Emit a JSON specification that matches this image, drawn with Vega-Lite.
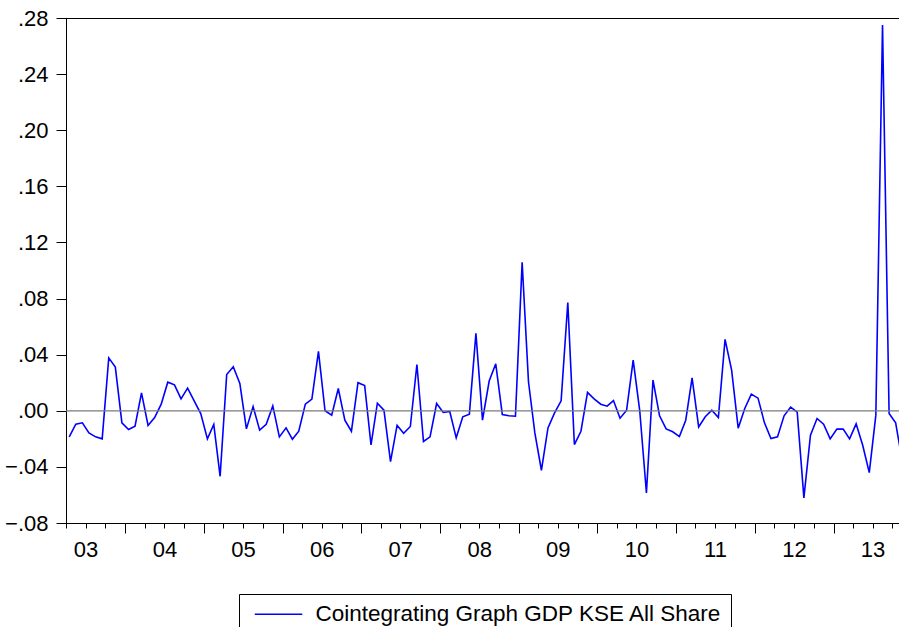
{
  "$schema": "https://vega.github.io/schema/vega-lite/v6.json",
  "width": 833,
  "height": 505,
  "autosize": {"type": "none"},
  "padding": {"left": 66, "top": 18, "right": 0, "bottom": 104},
  "background": "white",
  "config": {
    "view": {"stroke": null},
    "font": "Liberation Sans",
    "axis": {
      "title": null,
      "grid": false,
      "domain": true,
      "tickColor": "black",
      "tickWidth": 1,
      "domainColor": "black",
      "domainWidth": 1,
      "labelColor": "black",
      "labelFont": "Liberation Sans",
      "labelFontSize": 22
    }
  },
  "data": {
    "values": [
      {"d": "2003/04/01", "v": -0.0186}, {"d": "2003/05/01", "v": -0.0096}, {"d": "2003/06/01", "v": -0.0086},
      {"d": "2003/07/01", "v": -0.0158}, {"d": "2003/08/01", "v": -0.0186}, {"d": "2003/09/01", "v": -0.0200},
      {"d": "2003/10/01", "v": 0.0377}, {"d": "2003/11/01", "v": 0.0311}, {"d": "2003/12/01", "v": -0.0086},
      {"d": "2004/01/01", "v": -0.0134}, {"d": "2004/02/01", "v": -0.0110}, {"d": "2004/03/01", "v": 0.0128},
      {"d": "2004/04/01", "v": -0.0105}, {"d": "2004/05/01", "v": -0.0048}, {"d": "2004/06/01", "v": 0.0047},
      {"d": "2004/07/01", "v": 0.0204}, {"d": "2004/08/01", "v": 0.0185}, {"d": "2004/09/01", "v": 0.0085},
      {"d": "2004/10/01", "v": 0.0161}, {"d": "2004/11/01", "v": 0.0071}, {"d": "2004/12/01", "v": -0.0020},
      {"d": "2005/01/01", "v": -0.0200}, {"d": "2005/02/01", "v": -0.0098}, {"d": "2005/03/01", "v": -0.0467},
      {"d": "2005/04/01", "v": 0.0259}, {"d": "2005/05/01", "v": 0.0314}, {"d": "2005/06/01", "v": 0.0195},
      {"d": "2005/07/01", "v": -0.0129}, {"d": "2005/08/01", "v": 0.0030}, {"d": "2005/09/01", "v": -0.0138},
      {"d": "2005/10/01", "v": -0.0096}, {"d": "2005/11/01", "v": 0.0035}, {"d": "2005/12/01", "v": -0.0186},
      {"d": "2006/01/01", "v": -0.0122}, {"d": "2006/02/01", "v": -0.0203}, {"d": "2006/03/01", "v": -0.0146},
      {"d": "2006/04/01", "v": 0.0047}, {"d": "2006/05/01", "v": 0.0083}, {"d": "2006/06/01", "v": 0.0423},
      {"d": "2006/07/01", "v": 0.0000}, {"d": "2006/08/01", "v": -0.0031}, {"d": "2006/09/01", "v": 0.0159},
      {"d": "2006/10/01", "v": -0.0067}, {"d": "2006/11/01", "v": -0.0146}, {"d": "2006/12/01", "v": 0.0200},
      {"d": "2007/01/01", "v": 0.0180}, {"d": "2007/02/01", "v": -0.0243}, {"d": "2007/03/01", "v": 0.0054},
      {"d": "2007/04/01", "v": 0.0004}, {"d": "2007/05/01", "v": -0.0362}, {"d": "2007/06/01", "v": -0.0103},
      {"d": "2007/07/01", "v": -0.0160}, {"d": "2007/08/01", "v": -0.0112}, {"d": "2007/09/01", "v": 0.0330},
      {"d": "2007/10/01", "v": -0.0219}, {"d": "2007/11/01", "v": -0.0186}, {"d": "2007/12/01", "v": 0.0052},
      {"d": "2008/01/01", "v": -0.0012}, {"d": "2008/02/01", "v": -0.0005}, {"d": "2008/03/01", "v": -0.0193},
      {"d": "2008/04/01", "v": -0.0043}, {"d": "2008/05/01", "v": -0.0024}, {"d": "2008/06/01", "v": 0.0552},
      {"d": "2008/07/01", "v": -0.0067}, {"d": "2008/08/01", "v": 0.0212}, {"d": "2008/09/01", "v": 0.0335},
      {"d": "2008/10/01", "v": -0.0027}, {"d": "2008/11/01", "v": -0.0036}, {"d": "2008/12/01", "v": -0.0039},
      {"d": "2009/01/01", "v": 0.1058}, {"d": "2009/02/01", "v": 0.0207}, {"d": "2009/03/01", "v": -0.0158},
      {"d": "2009/04/01", "v": -0.0424}, {"d": "2009/05/01", "v": -0.0122}, {"d": "2009/06/01", "v": -0.0015},
      {"d": "2009/07/01", "v": 0.0071}, {"d": "2009/08/01", "v": 0.0772}, {"d": "2009/09/01", "v": -0.0241},
      {"d": "2009/10/01", "v": -0.0146}, {"d": "2009/11/01", "v": 0.0131}, {"d": "2009/12/01", "v": 0.0085},
      {"d": "2010/01/01", "v": 0.0047}, {"d": "2010/02/01", "v": 0.0033}, {"d": "2010/03/01", "v": 0.0073},
      {"d": "2010/04/01", "v": -0.0053}, {"d": "2010/05/01", "v": 0.0004}, {"d": "2010/06/01", "v": 0.0361},
      {"d": "2010/07/01", "v": 0.0000}, {"d": "2010/08/01", "v": -0.0586}, {"d": "2010/09/01", "v": 0.0219},
      {"d": "2010/10/01", "v": -0.0036}, {"d": "2010/11/01", "v": -0.0129}, {"d": "2010/12/01", "v": -0.0150},
      {"d": "2011/01/01", "v": -0.0184}, {"d": "2011/02/01", "v": -0.0067}, {"d": "2011/03/01", "v": 0.0235},
      {"d": "2011/04/01", "v": -0.0115}, {"d": "2011/05/01", "v": -0.0043}, {"d": "2011/06/01", "v": 0.0004},
      {"d": "2011/07/01", "v": -0.0048}, {"d": "2011/08/01", "v": 0.0509}, {"d": "2011/09/01", "v": 0.0290},
      {"d": "2011/10/01", "v": -0.0124}, {"d": "2011/11/01", "v": 0.0016}, {"d": "2011/12/01", "v": 0.0119},
      {"d": "2012/01/01", "v": 0.0090}, {"d": "2012/02/01", "v": -0.0086}, {"d": "2012/03/01", "v": -0.0198},
      {"d": "2012/04/01", "v": -0.0186}, {"d": "2012/05/01", "v": -0.0036}, {"d": "2012/06/01", "v": 0.0026},
      {"d": "2012/07/01", "v": -0.0010}, {"d": "2012/08/01", "v": -0.0621}, {"d": "2012/09/01", "v": -0.0174},
      {"d": "2012/10/01", "v": -0.0055}, {"d": "2012/11/01", "v": -0.0096}, {"d": "2012/12/01", "v": -0.0200},
      {"d": "2013/01/01", "v": -0.0131}, {"d": "2013/02/01", "v": -0.0131}, {"d": "2013/03/01", "v": -0.0200},
      {"d": "2013/04/01", "v": -0.0093}, {"d": "2013/05/01", "v": -0.0246}, {"d": "2013/06/01", "v": -0.0441},
      {"d": "2013/07/01", "v": -0.0031}, {"d": "2013/08/01", "v": 0.2750}, {"d": "2013/09/01", "v": -0.0020},
      {"d": "2013/10/01", "v": -0.0086}, {"d": "2013/11/01", "v": -0.0360}
    ]
  },
  "layer": [
    {
      "mark": {"type": "line", "strokeWidth": 1.6, "clip": true},
      "encoding": {
        "x": {
          "field": "d",
          "type": "temporal",
          "timeUnit": "yearmonth",
          "bandPosition": 0.5,
          "scale": {
            "domain": [{"year": 2003, "month": 4, "date": 1}, {"year": 2013, "month": 11, "date": 1}],
            "nice": false
          },
          "axis": {
            "tickCount": {"interval": "month", "step": 3},
            "labelExpr": "month(datum.value)==6 ? timeFormat(datum.value,'%y') : ''",
            "tickSize": {"condition": {"test": "month(datum.value)==0", "value": 10}, "value": 5},
            "labelPadding": 11,
            "labelOverlap": false,
            "labelFlush": false,
            "labelBound": false
          }
        },
        "y": {
          "field": "v",
          "type": "quantitative",
          "scale": {"domain": [-0.08, 0.28], "nice": false, "zero": false},
          "axis": {
            "values": [-0.08, -0.04, 0, 0.04, 0.08, 0.12, 0.16, 0.2, 0.24, 0.28],
            "labelExpr": "replace(format(datum.value,'.2f'),'0.','.')",
            "tickSize": 10,
            "labelPadding": 8
          }
        },
        "color": {
          "datum": "Cointegrating Graph GDP KSE All Share",
          "type": "nominal",
          "scale": {"range": ["#0000ff"]},
          "legend": {
            "orient": "none",
            "legendX": 173,
            "legendY": 576,
            "title": null,
            "symbolType": "M-0.47,0H4.53",
            "symbolSize": 361,
            "symbolStrokeWidth": 1.5,
            "labelFont": "Liberation Sans",
            "labelFontSize": 22.5,
            "labelColor": "black",
            "labelLimit": 1000,
            "labelOffset": 45,
            "padding": 9,
            "strokeColor": "black",
            "fillColor": "white",
            "cornerRadius": 0
          }
        }
      }
    },
    {
      "data": {"values": [{}]},
      "mark": {"type": "rule", "color": "#7a7a7a", "strokeWidth": 1.3},
      "encoding": {"y": {"datum": 0, "type": "quantitative"}}
    },
    {
      "data": {"values": [{}]},
      "mark": {"type": "rule", "color": "black", "strokeWidth": 1, "yOffset": 0.5},
      "encoding": {"y": {"datum": 0.28, "type": "quantitative"}}
    }
  ]
}
